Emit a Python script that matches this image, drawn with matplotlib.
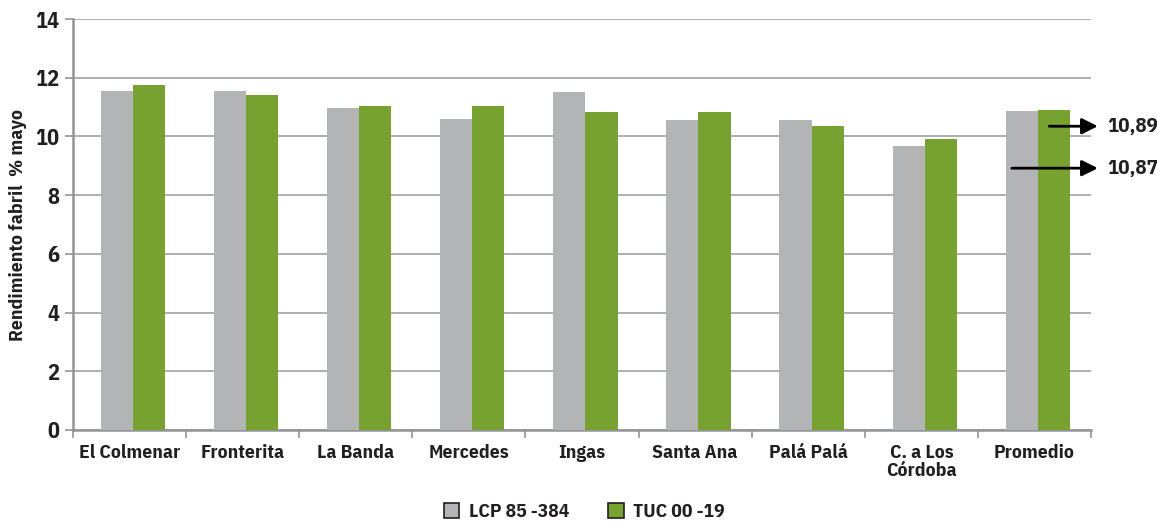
import numpy as np
import matplotlib
matplotlib.use("Agg")
import matplotlib.pyplot as plt

plt.rcParams['font.family'] = ['IBM Plex Sans Condensed', 'Liberation Sans Narrow', 'DejaVu Sans']
plt.rcParams['font.weight'] = 'bold'

# data
ingenios = ["El Colmenar", "Fronterita", "La Banda", "Mercedes", "Ingas",
            "Santa Ana", "Palá Palá", "C. a Los\nCórdoba", "Promedio"]
lcp = [11.56, 11.56, 10.97, 10.59, 11.53, 10.55, 10.55, 9.69, 10.87]
tuc = [11.77, 11.42, 11.04, 11.04, 10.83, 10.83, 10.35, 9.90, 10.89]
series_names = ["LCP 85 -384", "TUC 00 -19"]
prom_labels = ["10,89", "10,87"]

txt = '#231f20'
grey_bar = '#b3b4b6'
green_bar = '#78a22f'
grid_col = '#a7a9ac'
axis_col = '#939598'

fig = plt.figure(figsize=(11.57, 5.32), dpi=100)
ax = fig.add_axes([0.063, 0.192, 0.88, 0.772])

x = np.arange(len(ingenios))
w = 0.285
ax.bar(x - w / 2 + 0.03, lcp, w, color=grey_bar, label=series_names[0], zorder=3)
ax.bar(x + w / 2 + 0.03, tuc, w, color=green_bar, label=series_names[1], zorder=3)

ax.set_xlim(-0.5, len(ingenios) - 0.5)
ax.set_ylim(0, 14)
ax.set_yticks(range(0, 15, 2))
ax.yaxis.grid(True, color=grid_col, lw=1.3, zorder=0)
ax.set_axisbelow(True)

for s in ['top', 'right']:
    ax.spines[s].set_visible(False)
ax.spines['left'].set_color(axis_col)
ax.spines['left'].set_linewidth(1.8)
ax.spines['bottom'].set_color(axis_col)
ax.spines['bottom'].set_linewidth(1.8)

ax.set_xticks(x)
ax.set_xticklabels(ingenios, fontsize=14, color=txt, linespacing=1.0)
ax.tick_params(axis='x', length=0, pad=10)
# separators between categories on the x axis
ax.set_xticks(np.arange(-0.5, len(ingenios), 1), minor=True)
ax.tick_params(axis='x', which='minor', length=6, width=1.2, color=axis_col)
ax.tick_params(axis='y', length=6, width=1.2, color=axis_col, labelsize=16,
               labelcolor=txt, pad=4)
for lb in ax.get_yticklabels():
    lb.set_fontweight('bold')

ax.set_ylabel("Rendimiento fabril  % mayo", fontsize=14, color=txt,
              fontweight='bold', labelpad=6)

# arrows for the average values
last = len(ingenios) - 1
arrow_y = [10.35, 8.92]
arrow_x0 = [last + 0.13, last - 0.2]
for lab, yy, x0 in zip(prom_labels, arrow_y, arrow_x0):
    ax.annotate("", xy=(last + 0.56, yy), xytext=(x0, yy),
                arrowprops=dict(arrowstyle='-|>', color='black', lw=2, mutation_scale=24,
                                shrinkA=0, shrinkB=0),
                annotation_clip=False)
    ax.text(last + 0.64, yy, lab, fontsize=15, color=txt,
            fontweight='bold', va='center', clip_on=False)

leg = fig.legend(loc='lower center', bbox_to_anchor=(0.505, -0.012), ncol=2, frameon=False,
                 fontsize=14, handlelength=0.8, handleheight=0.8, columnspacing=2.0,
                 handletextpad=0.5)
for h in leg.legend_handles:
    h.set_edgecolor('#231f20')
    h.set_linewidth(1.2)
for t in leg.get_texts():
    t.set_color(txt)

fig.savefig("out.png", dpi=100)
